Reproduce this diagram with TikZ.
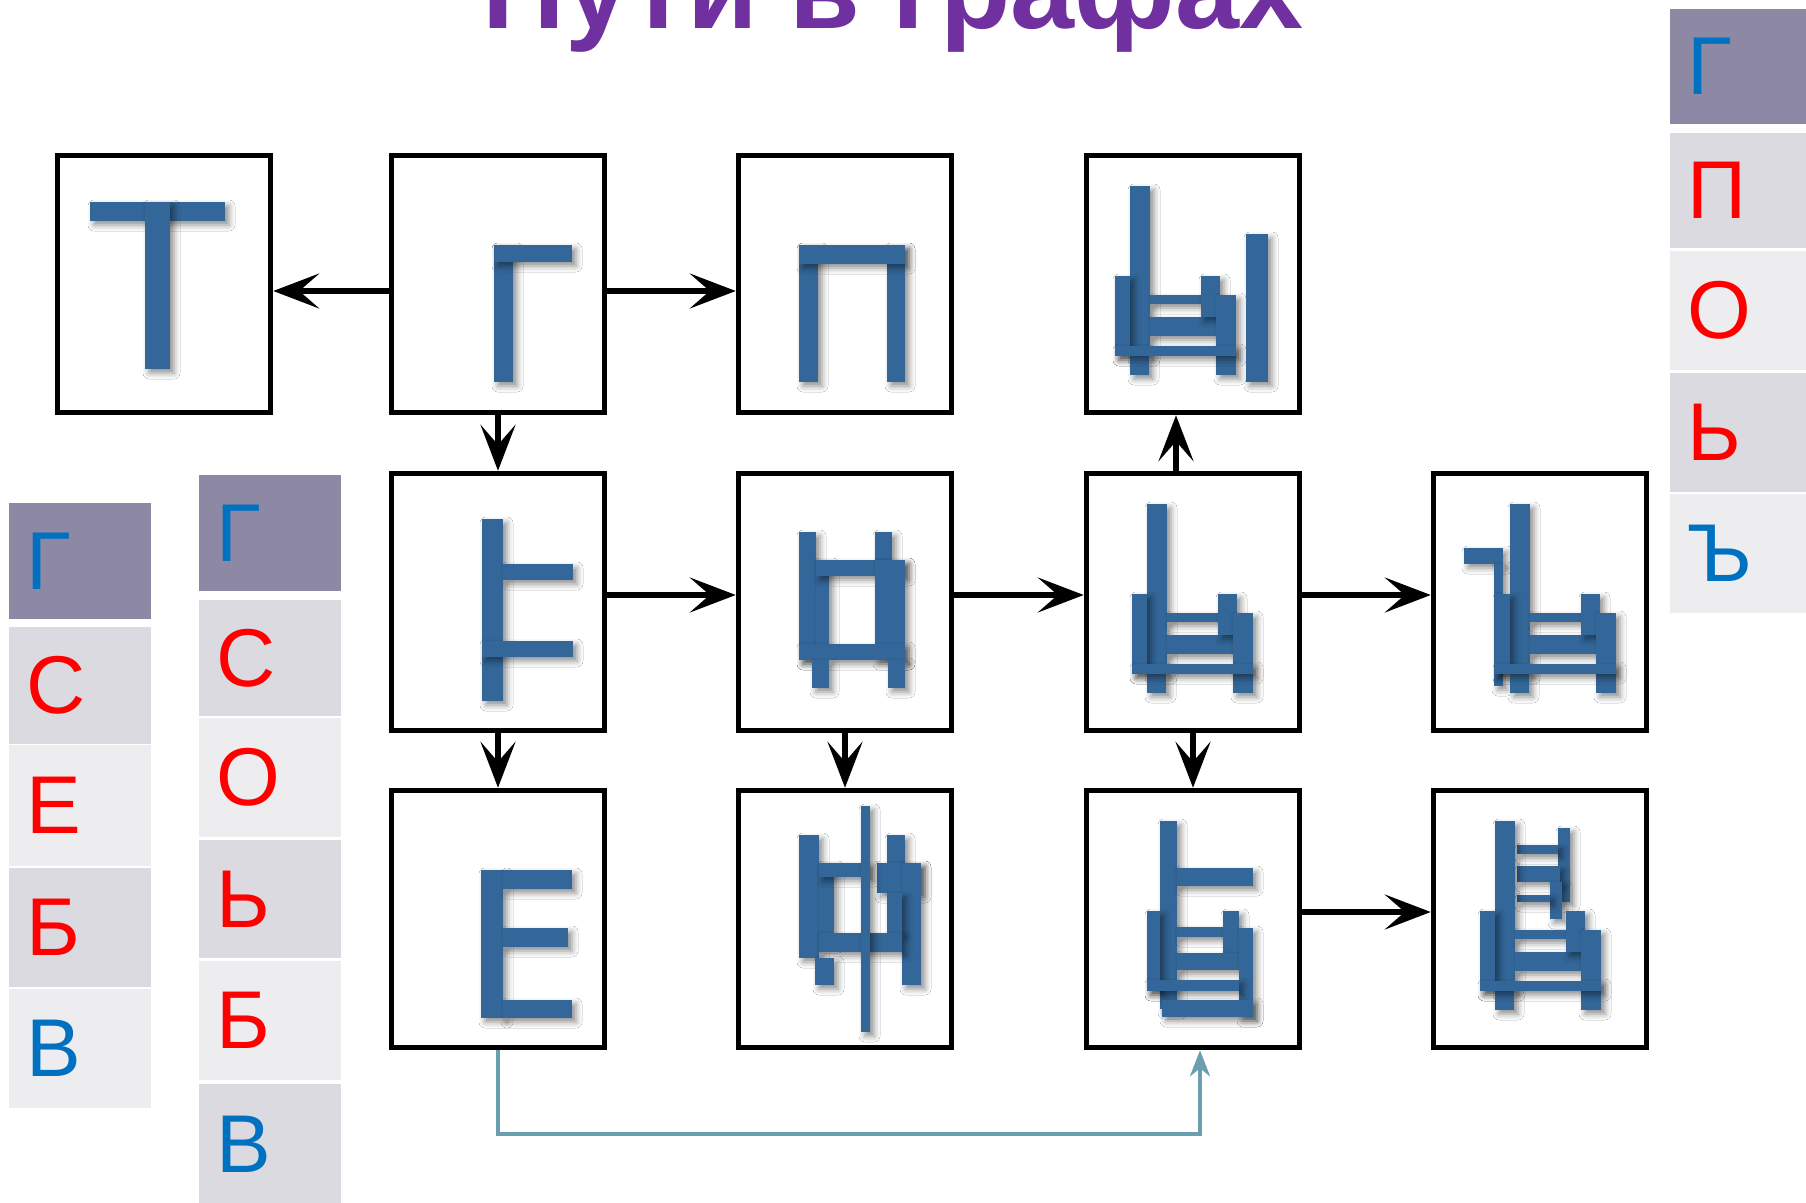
\documentclass[tikz,border=0pt]{standalone}
\usepackage{fontspec}
\setmainfont{Liberation Sans}
\usepackage{tikz}
\usetikzlibrary{arrows.meta,shadows.blur}

\definecolor{titlepurple}{HTML}{7030A0}
\definecolor{glyphblue}{HTML}{336699}
\definecolor{cellhead}{HTML}{8D89A5}
\definecolor{celldark}{HTML}{DADAE0}
\definecolor{celllight}{HTML}{EDEDF0}
\definecolor{letterblue}{HTML}{0070C0}
\definecolor{letterred}{HTML}{FF0000}
\definecolor{pathteal}{HTML}{6A9FB0}

\tikzset{
  box/.style={draw, line width=5.5pt, minimum width=213pt, minimum height=257pt, inner sep=0pt},
  glyph/.style={fill=glyphblue, blur shadow={shadow xshift=4pt, shadow yshift=-4pt, shadow blur radius=6pt, shadow opacity=45}},
  link/.style={line width=5.3pt, -{Stealth[length=46pt, width=35pt, inset=20pt]}},
  tealink/.style={pathteal, line width=4pt, -{Stealth[length=26pt, width=20pt, inset=8pt]}},
  cell/.style={anchor=north west, minimum width=142pt, inner xsep=17pt, inner ysep=0pt, text width=108pt, align=left, font=\fontsize{82}{82}\selectfont},
}

\newcommand{\lowpart}{%
  \fill[glyph] (-46,-98) rectangle (-26,72);
  \fill[glyph] (-61,-8) rectangle (-46,72);
  \fill[glyph] (-46,72) rectangle (-27,91);
  \fill[glyph] (-26,33) rectangle (43,52);
  \fill[glyph] (-26,11) rectangle (25,20);
  \fill[glyph] (25,-8) rectangle (44,33);
  \fill[glyph] (40,11) rectangle (60,91);
  \fill[glyph] (-61,62) rectangle (60,72);
}

\begin{document}
\begin{tikzpicture}[x=1pt,y=-1pt]
\path[fill=white, use as bounding box] (0,0) rectangle (1806,1202);

\node[font=\fontsize{115}{115}\selectfont\bfseries, text=titlepurple, anchor=base] (title) at (893,28) {Пути в графах};

\foreach \ytop/\hgt/\bg/\fg/\ch [count=\i] in {503/116/cellhead/letterblue/Г, 627/117/celldark/letterred/С, 745/121/celllight/letterred/Е, 868/119/celldark/letterred/Б, 989/119/celllight/letterblue/В}
  \node[cell, fill=\bg, text=\fg, minimum height=\hgt] (lista-\i) at (9,\ytop) {\ch};
\foreach \ytop/\hgt/\bg/\fg/\ch [count=\i] in {475/116/cellhead/letterblue/Г, 600/116/celldark/letterred/С, 718/119/celllight/letterred/О, 840/118/celldark/letterred/Ь, 961/119/celllight/letterred/Б, 1084/120/celldark/letterblue/В}
  \node[cell, fill=\bg, text=\fg, minimum height=\hgt] (listb-\i) at (199,\ytop) {\ch};
\foreach \ytop/\hgt/\bg/\fg/\ch [count=\i] in {9/115/cellhead/letterblue/Г, 133/115/celldark/letterred/П, 251/119/celllight/letterred/О, 373/119/celldark/letterred/Ь, 494/119/celllight/letterblue/Ъ}
  \node[cell, fill=\bg, text=\fg, minimum height=\hgt] (listc-\i) at (1670,\ytop) {\ch};

\node[box] (b11) at (164,284) {};
\node[box] (b12) at (498,284) {};
\node[box] (b13) at (845,284) {};
\node[box] (b14) at (1193,284) {};
\node[box] (b22) at (498,602) {};
\node[box] (b23) at (845,602) {};
\node[box] (b24) at (1193,602) {};
\node[box] (b25) at (1540,602) {};
\node[box] (b32) at (498,919) {};
\node[box] (b33) at (845,919) {};
\node[box] (b34) at (1193,919) {};
\node[box] (b35) at (1540,919) {};

\begin{scope}[shift={(b11.center)}]
\fill[glyph] (-74,-82) rectangle (61,-63);
\fill[glyph] (-19,-82) rectangle (6,85);
\end{scope}
\begin{scope}[shift={(b12.center)}]
\fill[glyph] (-4,-39) rectangle (15,98);
\fill[glyph] (-4,-39) rectangle (74,-22);
\end{scope}
\begin{scope}[shift={(b13.center)}]
\fill[glyph] (-46,-39) rectangle (-27,98);
\fill[glyph] (42,-39) rectangle (60,98);
\fill[glyph] (-46,-39) rectangle (60,-20);
\end{scope}
\begin{scope}[shift={(b14.center)}]
\begin{scope}[xshift=-17pt]\lowpart\end{scope}
\fill[glyph] (53,-50) rectangle (75,98);
\end{scope}
\begin{scope}[shift={(b22.center)}]
\fill[glyph] (-16,-83) rectangle (5,99);
\fill[glyph] (5,-38) rectangle (75,-22);
\fill[glyph] (-16,39) rectangle (75,55);
\end{scope}
\begin{scope}[shift={(b23.center)}]
\fill[glyph] (-46,-70) rectangle (-29,58);
\fill[glyph] (-29,-42) rectangle (-16,42);
\fill[glyph] (30,-70) rectangle (47,-42);
\fill[glyph] (-29,-42) rectangle (60,-26);
\fill[glyph] (30,-42) rectangle (60,58);
\fill[glyph] (-46,42) rectangle (60,58);
\fill[glyph] (-33,58) rectangle (-16,86);
\fill[glyph] (43,58) rectangle (60,86);
\end{scope}
\begin{scope}[shift={(b24.center)}]
\lowpart
\end{scope}
\begin{scope}[shift={(b25.center)}]
\fill[glyph] (-76,-54) rectangle (-37,-38);
\fill[glyph] (-46,-38) rectangle (-37,84);
\begin{scope}[xshift=16pt]\lowpart\end{scope}
\end{scope}
\begin{scope}[shift={(b32.center)}]
\fill[glyph] (-17,-49) rectangle (5,99);
\fill[glyph] (5,-49) rectangle (74,-30);
\fill[glyph] (5,9) rectangle (70,28);
\fill[glyph] (5,81) rectangle (74,99);
\end{scope}
\begin{scope}[shift={(b33.center)}]
\fill[glyph] (-46,-84) rectangle (-26,39);
\fill[glyph] (-26,-56) rectangle (-11,24);
\fill[glyph] (-26,-56) rectangle (25,-42);
\fill[glyph] (42,-84) rectangle (60,-56);
\fill[glyph] (32,-56) rectangle (76,-26);
\fill[glyph] (57,-56) rectangle (76,66);
\fill[glyph] (42,-26) rectangle (57,14);
\fill[glyph] (-26,14) rectangle (57,33);
\fill[glyph] (-30,39) rectangle (-11,66);
\fill[glyph] (16,-113) rectangle (25,113);
\end{scope}
\begin{scope}[shift={(b34.center)}]
\fill[glyph] (-33,-98) rectangle (-16,90);
\fill[glyph] (-16,-51) rectangle (60,-33);
\fill[glyph] (-46,-8) rectangle (-33,72);
\fill[glyph] (-16,8) rectangle (30,18);
\fill[glyph] (30,-8) rectangle (46,34);
\fill[glyph] (-16,34) rectangle (46,51);
\fill[glyph] (46,9) rectangle (60,98);
\fill[glyph] (-46,61) rectangle (46,72);
\fill[glyph] (-31,81) rectangle (60,98);
\end{scope}
\begin{scope}[shift={(b35.center)}]
\fill[glyph] (18,-91) rectangle (30,-17);
\fill[glyph] (-23,-74) rectangle (18,-65);
\fill[glyph] (-23,-53) rectangle (20,-37);
\fill[glyph] (10,-37) rectangle (22,0);
\fill[glyph] (-23,-24) rectangle (10,-17);
\begin{scope}[xshift=1pt]\lowpart\end{scope}
\end{scope}

\draw[link] ([yshift=-7pt]b12.west) -- ([yshift=-7pt]b11.east);
\draw[link] ([yshift=-7pt]b12.east) -- ([yshift=-7pt]b13.west);
\draw[link] (b12) -- (b22);
\draw[link] ([yshift=7pt]b22.east) -- ([yshift=7pt]b23.west);
\draw[link] ([yshift=7pt]b23.east) -- ([yshift=7pt]b24.west);
\draw[link] ([yshift=7pt]b24.east) -- ([yshift=7pt]b25.west);
\draw[link] ([xshift=-17pt]b24.north) -- ([xshift=-17pt]b14.south);
\draw[link] (b22) -- (b32);
\draw[link] (b23) -- (b33);
\draw[link] (b24) -- (b34);
\draw[link] ([yshift=7pt]b34.east) -- ([yshift=7pt]b35.west);
\draw[tealink] (b32.south) -- ++(0,84) -| ([xshift=7pt]b34.south);
\end{tikzpicture}
\end{document}
